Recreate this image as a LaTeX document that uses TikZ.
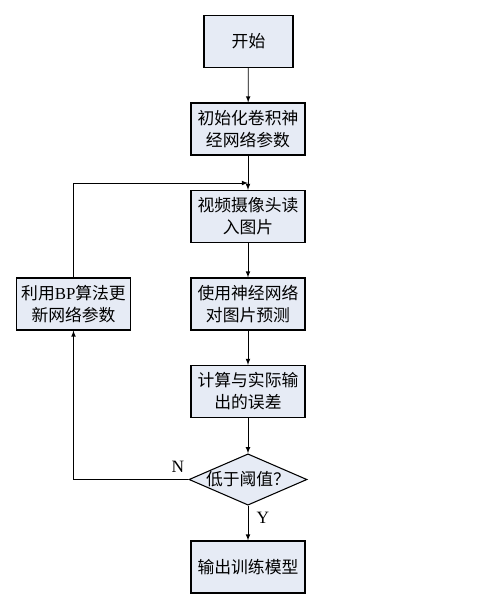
\documentclass[tikz,border=0pt]{standalone}
\usepackage{fontspec}
\setmainfont{Liberation Serif}
\newfontfamily\cjk{Noto Sans CJK SC}
\usetikzlibrary{shapes.geometric}
\definecolor{boxfill}{HTML}{E6EBF5}
\tikzset{
    stepbox/.style={draw, fill=boxfill, line width=0.8pt, inner sep=0pt,
        minimum width=85.5pt, minimum height=39pt, align=center,
        font=\cjk\fontsize{12.6}{16.5}\selectfont},
    testbox/.style={draw, fill=boxfill, line width=0.8pt, diamond, inner sep=0pt,
        minimum width=88.5pt, minimum height=38.5pt,
        font=\cjk\fontsize{12.6}{16.5}\selectfont},
}
\begin{document}
\begin{tikzpicture}[x=0.75pt, y=-0.75pt, >=latex, line width=0.6pt]

    \useasboundingbox (0, 0) rectangle (482, 612);

    % 流程
    \node[stepbox, minimum width=66.75pt] (start) at (248.5, 41.5) {开始};
    \node[stepbox] (init) at (248, 129) {初始化卷积神\\经网络参数};
    \node[stepbox] (read) at (248, 216.5) {视频摄像头读\\入图片};
    \node[stepbox] (pred) at (248, 304) {使用神经网络\\对图片预测};
    \node[stepbox] (err) at (248, 391.5) {计算与实际输\\出的误差};
    \node[testbox] (cond) at (248, 479.5) {\makebox[0pt]{低于阈值？}};
    \node[stepbox] (out) at (248, 567) {输出训练模型};
    \node[stepbox] (upd) at (73.5, 304) {利用{\rmfamily BP}算法更\\新网络参数};

    % 回路
    \coordinate (join) at (248, 183);

    \draw[->] (start) -- (init);
    \draw[->] (init) -- (read);
    \draw[->] (read) -- (pred);
    \draw[->] (pred) -- (err);
    \draw[->] (err) -- (cond);
    \draw[->] (cond) -- (out);
    \draw[->] (cond.west) -| (upd.south);
    \draw[->] (upd.north) |- (join);

    % 标注
    \node[font=\fontsize{13}{15}\selectfont] (lblN) at (178, 467) {N};
    \node[font=\fontsize{13}{15}\selectfont] (lblY) at (263, 518) {Y};

\end{tikzpicture}
\end{document}
